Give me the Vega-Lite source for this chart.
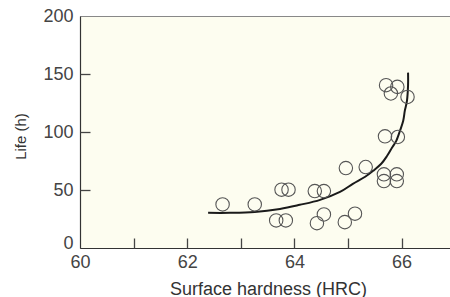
{
  "$schema": "https://vega.github.io/schema/vega-lite/v6.json",
  "width": 372,
  "height": 232,
  "autosize": {"type": "none"},
  "padding": {"left": 80, "top": 16, "right": 0, "bottom": 49},
  "background": "white",
  "view": {"fill": "#fdfdf0", "stroke": "#888", "strokeWidth": 1},
  "datasets": {
    "curve": [
      {"i": 1, "hardness": 62.39, "life": 30.3},
      {"i": 2, "hardness": 62.80, "life": 30.3},
      {"i": 3, "hardness": 63.26, "life": 31.1},
      {"i": 4, "hardness": 63.73, "life": 33.7},
      {"i": 5, "hardness": 64.10, "life": 37.2},
      {"i": 6, "hardness": 64.48, "life": 41.5},
      {"i": 7, "hardness": 64.85, "life": 48.4},
      {"i": 8, "hardness": 65.09, "life": 55.3},
      {"i": 9, "hardness": 65.32, "life": 61.4},
      {"i": 10, "hardness": 65.47, "life": 66.6},
      {"i": 11, "hardness": 65.62, "life": 72.6},
      {"i": 12, "hardness": 65.73, "life": 79.5},
      {"i": 13, "hardness": 65.82, "life": 86.4},
      {"i": 14, "hardness": 65.90, "life": 92.4},
      {"i": 15, "hardness": 65.97, "life": 101.1},
      {"i": 16, "hardness": 66.03, "life": 109.7},
      {"i": 17, "hardness": 66.06, "life": 118.4},
      {"i": 18, "hardness": 66.10, "life": 127.0},
      {"i": 19, "hardness": 66.12, "life": 140.0},
      {"i": 20, "hardness": 66.12, "life": 151.2}
    ],
    "obs": [
      {"hardness": 62.66, "life": 37.6},
      {"hardness": 63.26, "life": 37.6},
      {"hardness": 63.76, "life": 50.3},
      {"hardness": 63.89, "life": 50.3},
      {"hardness": 63.66, "life": 23.8},
      {"hardness": 63.84, "life": 23.8},
      {"hardness": 64.38, "life": 49.1},
      {"hardness": 64.55, "life": 49.1},
      {"hardness": 64.42, "life": 21.4},
      {"hardness": 64.55, "life": 28.9},
      {"hardness": 64.96, "life": 68.9},
      {"hardness": 65.33, "life": 69.8},
      {"hardness": 64.94, "life": 22.3},
      {"hardness": 65.13, "life": 29.6},
      {"hardness": 65.67, "life": 63.5},
      {"hardness": 65.91, "life": 63.5},
      {"hardness": 65.67, "life": 57.7},
      {"hardness": 65.91, "life": 57.7},
      {"hardness": 65.71, "life": 140.4},
      {"hardness": 65.92, "life": 138.9},
      {"hardness": 65.80, "life": 133.2},
      {"hardness": 66.11, "life": 130.2},
      {"hardness": 65.69, "life": 96.3},
      {"hardness": 65.93, "life": 95.7}
    ]
  },
  "resolve": {"axis": {"x": "independent", "y": "independent"}},
  "layer": [
    {
      "data": {"name": "curve"},
      "mark": {"type": "line", "interpolate": "cardinal", "color": "#1a1a1a", "strokeWidth": 2},
      "encoding": {
        "x": {
          "field": "hardness",
          "type": "quantitative",
          "scale": {"domain": [60, 66.94], "nice": false, "zero": false},
          "axis": {
            "title": "Surface hardness (HRC)",
            "orient": "bottom",
            "values": [60, 62, 64, 66],
            "labelOverlap": false,
            "labelFlush": false,
            "labelBound": false,
            "grid": false,
            "ticks": false,
            "labelPadding": 5,
            "domainColor": "#333",
            "domainWidth": 1.2,
            "labelFont": "Liberation Sans",
            "labelFontSize": 18,
            "labelColor": "#444",
            "titleFont": "Liberation Sans",
            "titleFontSize": 18,
            "titleFontWeight": "normal",
            "titleColor": "#333",
            "titleX": 188,
            "titleY": 41,
            "titleAlign": "center",
            "titleBaseline": "middle"
          }
        },
        "y": {
          "field": "life",
          "type": "quantitative",
          "scale": {"domain": [0, 200], "nice": false, "zero": false},
          "axis": {
            "title": "Life (h)",
            "orient": "left",
            "values": [0, 50, 100, 150, 200],
            "labelOverlap": false,
            "labelFlush": false,
            "labelBound": false,
            "grid": false,
            "ticks": false,
            "labelPadding": 7,
            "labelBaseline": {"condition": {"test": "datum.value === 0", "value": "alphabetic"}, "value": "middle"},
            "domainColor": "#333",
            "domainWidth": 1.2,
            "labelFont": "Liberation Sans",
            "labelFontSize": 18,
            "labelColor": "#444",
            "titleFont": "Liberation Sans",
            "titleFontSize": 15,
            "titleFontWeight": "normal",
            "titleColor": "#333",
            "titleX": -60,
            "titleY": 120,
            "titleAngle": -90,
            "titleAlign": "center",
            "titleBaseline": "middle"
          }
        },
        "order": {"field": "i", "type": "quantitative"}
      }
    },
    {
      "data": {"name": "obs"},
      "mark": {"type": "point", "shape": "circle", "filled": false, "size": 180, "stroke": "#555", "strokeWidth": 1.1, "opacity": 1},
      "encoding": {
        "x": {
          "field": "hardness",
          "type": "quantitative",
          "axis": {
            "orient": "top",
            "offset": -232,
            "title": null,
            "values": [61, 62, 63, 64, 65, 66],
            "labels": false,
            "domain": false,
            "grid": false,
            "ticks": true,
            "tickSize": 10,
            "tickColor": "#444",
            "tickWidth": 1.3,
            "zindex": 1
          }
        },
        "y": {
          "field": "life",
          "type": "quantitative",
          "axis": {
            "orient": "right",
            "offset": -372,
            "title": null,
            "values": [50, 100, 150],
            "labels": false,
            "domain": false,
            "grid": false,
            "ticks": true,
            "tickSize": 10,
            "tickColor": "#444",
            "tickWidth": 1.3,
            "zindex": 1
          }
        }
      }
    }
  ]
}
